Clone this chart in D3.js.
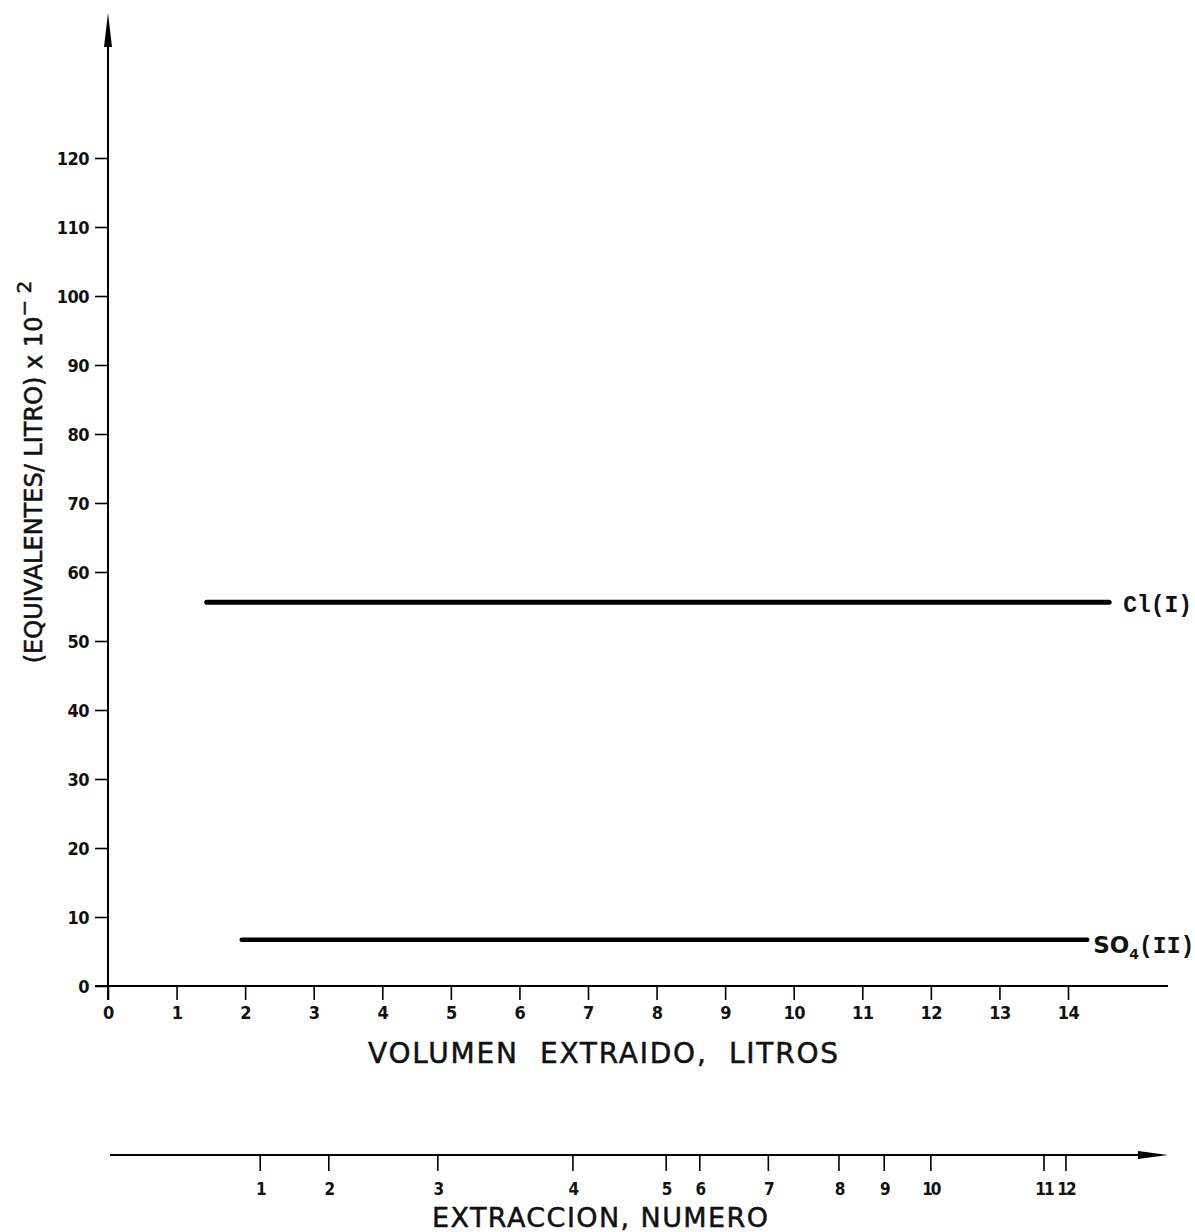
<!DOCTYPE html>
<html><head><meta charset="utf-8">
<script src="https://cdn.jsdelivr.net/npm/d3@7"></script>
<style>
html,body{margin:0;padding:0;background:#fff;}
svg{display:block;}
</style></head>
<body>
<script>
// ---- data ----
const xTicks = [0,1,2,3,4,5,6,7,8,9,10,11,12,13,14];
const yTicks = [0,10,20,30,40,50,60,70,80,90,100,110,120];
const seriesNames = ["Cl(I)", "SO4(II)"];
const clX = [1.44, 14.6];
const clY = [55.6, 55.6];
const so4X = [1.95, 14.28];
const so4Y = [6.7, 6.7];
const extractionNumbers = [1,2,3,4,5,6,7,8,9,10,11,12];
const extractionVolumes = [2.22,3.22,4.81,6.78,8.14,8.63,9.63,10.66,11.32,12.0,13.65,13.97];

const W = 1195, H = 1232;
const svg = d3.select("body").append("svg").attr("width", W).attr("height", H);

const x = d3.scaleLinear().domain([0,14]).range([108,1068]);
const y = d3.scaleLinear().domain([0,120]).range([986,158]);

const tickFont = "'DejaVu Sans Condensed', 'DejaVu Sans', sans-serif";
const titleFont = "'DejaVu Sans', sans-serif";
const ink = "#111";

// Y axis
const gy = svg.append("g").attr("transform","translate(108,0)")
  .call(d3.axisLeft(y).tickValues(yTicks).tickSize(13).tickPadding(6));
gy.select(".domain").remove();
gy.selectAll(".tick line").attr("stroke","#000").attr("stroke-width",1.6);
gy.selectAll(".tick text").attr("font-family",tickFont).attr("font-size",18).attr("font-weight","bold")
  .attr("letter-spacing",-0.5).attr("fill",ink).attr("dy","0.36em");
svg.append("line").attr("x1",108).attr("x2",108).attr("y1",1000).attr("y2",30).attr("stroke","#000").attr("stroke-width",2);
svg.append("path").attr("d","M108,13 L112,47 L104,47 Z").attr("fill","#000");

// X axis
const gx = svg.append("g").attr("transform","translate(0,986)")
  .call(d3.axisBottom(x).tickValues(xTicks).tickSize(14).tickPadding(8));
gx.select(".domain").remove();
gx.selectAll(".tick line").attr("stroke","#000").attr("stroke-width",1.6);
gx.selectAll(".tick text").attr("font-family",tickFont).attr("font-size",18).attr("font-weight","bold")
  .attr("letter-spacing",-0.5).attr("fill",ink).attr("dy","0.62em");
svg.append("line").attr("x1",95).attr("x2",1168).attr("y1",986).attr("y2",986).attr("stroke","#000").attr("stroke-width",2);

// Axis titles
svg.append("text").attr("x",603).attr("y",1063).attr("text-anchor","middle")
  .style("white-space","pre")
  .attr("font-family",titleFont).attr("font-size",28).attr("fill",ink).attr("stroke",ink).attr("stroke-width",0.5)
  .attr("textLength",470).attr("lengthAdjust","spacing")
  .text("VOLUMEN  EXTRAIDO,  LITROS");

const yt = svg.append("text").attr("transform","translate(42,472) rotate(-90)").attr("text-anchor","middle")
  .attr("font-family",titleFont).attr("font-size",24).attr("fill",ink).attr("stroke",ink).attr("stroke-width",0.5);
yt.append("tspan").text("(EQUIVALENTES/ LITRO) x 10");
yt.append("tspan").attr("dy",-11).attr("font-size",20).text("\u2212 2");

// data lines
const line = d3.line().x(d=>x(d[0])).y(d=>y(d[1]));
svg.append("path").datum(d3.zip(clX,clY)).attr("d",line).attr("fill","none").attr("stroke","#000").attr("stroke-width",5).attr("stroke-linecap","round");
svg.append("path").datum(d3.zip(so4X,so4Y)).attr("d",line).attr("fill","none").attr("stroke","#000").attr("stroke-width",4.5).attr("stroke-linecap","round");

// labels
svg.append("text").attr("x",x(clX[1])+14).attr("y",y(clY[1])+10)
  .attr("font-family","'Liberation Mono', monospace").attr("font-weight","bold").attr("font-size",23).attr("fill",ink)
  .text(seriesNames[0]);
const so = svg.append("text").attr("x",x(so4X[1])+6).attr("y",y(so4Y[1])+13).attr("fill",ink);
so.append("tspan").attr("font-family",titleFont).attr("font-weight","bold").attr("font-size",23).text("SO");
so.append("tspan").attr("font-family",titleFont).attr("font-weight","bold").attr("font-size",14).attr("dy",6).text("4");
so.append("tspan").attr("font-family","'Liberation Mono', monospace").attr("font-weight","bold").attr("font-size",23).attr("dy",-6).text("(II)");

// Extraction axis
const ex = d3.scaleOrdinal().domain(extractionNumbers).range(extractionVolumes.map(v=>x(v)));
const ge = svg.append("g").attr("transform","translate(0,1155)");
ge.selectAll("line.t").data(extractionNumbers).join("line")
  .attr("x1",d=>ex(d)).attr("x2",d=>ex(d)).attr("y1",0).attr("y2",16).attr("stroke","#000").attr("stroke-width",1.6);
ge.selectAll("text").data(extractionNumbers).join("text")
  .attr("x",d=>ex(d)).attr("y",40).attr("text-anchor","middle")
  .attr("font-family",tickFont).attr("font-size",17).attr("font-weight","bold").attr("letter-spacing",-2)
  .attr("fill",ink).text(d=>d);
svg.append("line").attr("x1",110).attr("x2",1145).attr("y1",1155).attr("y2",1155).attr("stroke","#000").attr("stroke-width",2);
svg.append("path").attr("d","M1168,1155 L1138,1151 L1138,1159 Z").attr("fill","#000");

svg.append("text").attr("x",600).attr("y",1227).attr("text-anchor","middle")
  .attr("font-family",titleFont).attr("font-size",27).attr("fill",ink).attr("stroke",ink).attr("stroke-width",0.5)
  .attr("textLength",336).attr("lengthAdjust","spacing")
  .text("EXTRACCION, NUMERO");
</script>
</body></html>
